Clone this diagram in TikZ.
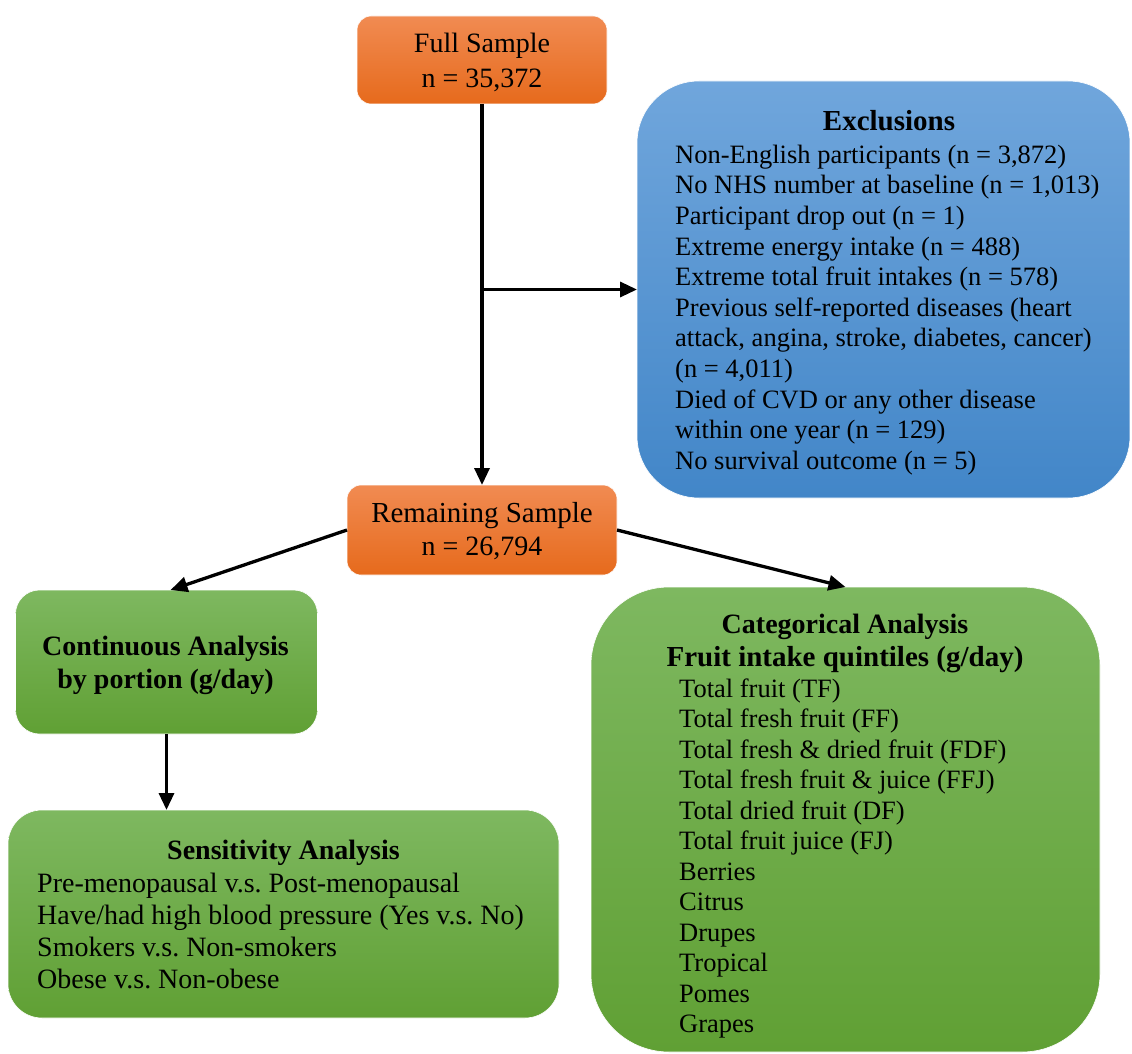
\documentclass[tikz,border=0pt]{standalone}
\usepackage{fontspec}
\setmainfont{Liberation Serif}
\usetikzlibrary{arrows.meta}
\definecolor{orTop}{RGB}{241,139,82}
\definecolor{orBot}{RGB}{230,106,28}
\definecolor{blTop}{RGB}{112,166,220}
\definecolor{blBot}{RGB}{66,134,200}
\definecolor{grTop}{RGB}{126,184,96}
\definecolor{grBot}{RGB}{96,160,52}
\newcommand{\fsz}[1]{\fontsize{#1}{30}\selectfont}
\frenchspacing
\begin{document}
\begin{tikzpicture}[x=1pt,y=-1pt,
  panel/.style={inner sep=0pt, outer sep=0pt, draw=white, line width=0.6pt},
  orangebox/.style={panel, top color=orTop, bottom color=orBot, rounded corners=14pt},
  bluebox/.style={panel, top color=blTop, bottom color=blBot, rounded corners=62pt},
  greenbox/.style={panel, top color=grTop, bottom color=grBot},
  txt/.style={inner sep=0pt, anchor=base, font=\fsz{28}},
  btxt/.style={txt, font=\fsz{28}\bfseries},
  item/.style={txt, anchor=base west},
  flow/.style={line width=3.3pt, -{Triangle[length=17pt,width=15pt]}},
]
\useasboundingbox (0,0) rectangle (1132,1054);

% boxes
\node[orangebox, minimum width=250, minimum height=88] (full) at (482,60) {};
\node[bluebox, minimum width=493, minimum height=417] (excl) at (883.5,289.5) {};
\node[orangebox, minimum width=270, minimum height=90] (rem) at (482,530) {};
\node[greenbox, rounded corners=24pt, minimum width=302, minimum height=144] (cont) at (166.5,662) {};
\node[greenbox, rounded corners=34pt, minimum width=551, minimum height=208] (sens) at (283.5,914) {};
\node[greenbox, rounded corners=78pt, minimum width=509, minimum height=465] (cat) at (845.5,819.5) {};

% sample sizes
\node[txt] (fullA) at (482,52.7) {Full Sample};
\node[txt] (fullB) at (482,87.3) {n = 35,372};
\node[txt, font=\fsz{29}] (remA) at (482,522) {Remaining Sample};
\node[txt] (remB) at (482,555) {n = 26,794};

% exclusions
\node[btxt, font=\fsz{29}\bfseries] (exT) at (889,131) {Exclusions};
\foreach \t [count=\i from 0] in {
  {Non-English participants (n = 3,872)},
  {No NHS number at baseline (n = 1,013)},
  {Participant drop out (n = 1)},
  {Extreme energy intake (n = 488)},
  {Extreme total fruit intakes (n = 578)},
  {Previous self-reported diseases (heart},
  {attack, angina, stroke, diabetes, cancer)},
  {(n = 4,011)},
  {Died of CVD or any other disease},
  {within one year (n = 129)},
  {No survival outcome (n = 5)}}
  \node[item, font=\fsz{26.5}] (ex\i) at (675,163.3+30.6*\i) {\t};

% continuous analysis
\node[btxt] (coA) at (165.5,655) {Continuous Analysis};
\node[btxt] (coB) at (165.5,688) {by portion (g/day)};

% sensitivity analysis
\node[btxt] (seT) at (283.5,859) {Sensitivity Analysis};
\foreach \t [count=\i from 0] in {
  {Pre-menopausal v.s. Post-menopausal},
  {Have/had high blood pressure (Yes v.s. No)},
  {Smokers v.s. Non-smokers},
  {Obese v.s. Non-obese}}
  \node[item] (se\i) at (37,892+32*\i) {\t};

% categorical analysis
\node[btxt] (caA) at (845,633) {Categorical Analysis};
\node[btxt, font=\fsz{29}\bfseries] (caB) at (845,666) {Fruit intake quintiles (g/day)};
\foreach \t [count=\i from 0] in {
  {Total fruit (TF)},
  {Total fresh fruit (FF)},
  {Total fresh \& dried fruit (FDF)},
  {Total fresh fruit \& juice (FFJ)},
  {Total dried fruit (DF)},
  {Total fruit juice (FJ)},
  Berries, Citrus, Drupes, Tropical, Pomes, Grapes}
  \node[item, font=\fsz{26.5}] (ca\i) at (679,697.3+30.5*\i) {\t};

% connectors
\coordinate (split) at (full.south |- excl.west);
\draw[line width=3.3pt] (full.south) -- (split);
\draw[flow] (split) -- (rem.north);
\draw[flow] (split) -- (excl.west);
\draw[flow] (rem.west) -- ([xshift=4pt]cont.north);
\draw[flow] (rem.east) -- (cat.north);
\draw[flow] (cont.south) -- (sens.north -| cont.south);
\end{tikzpicture}
\end{document}
